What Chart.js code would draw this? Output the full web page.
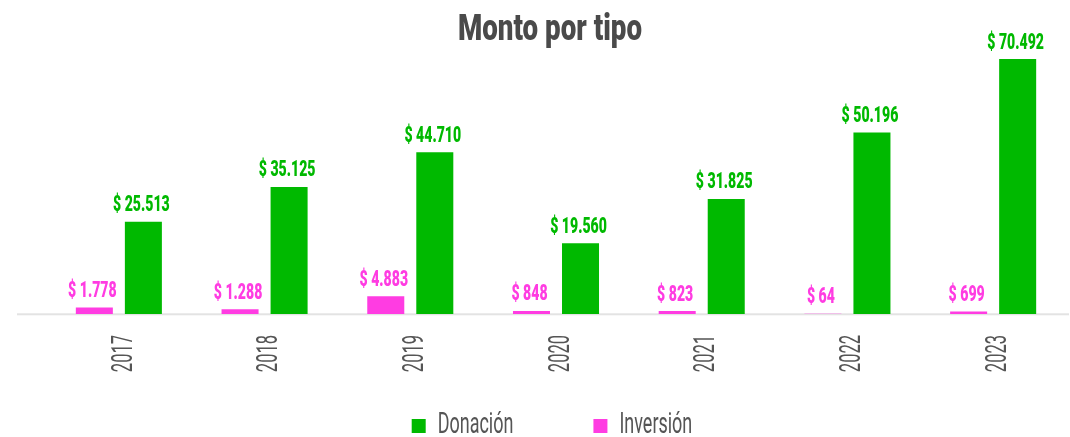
<!DOCTYPE html>
<html><head><meta charset="utf-8">
<script src="https://cdn.jsdelivr.net/npm/chart.js@4.4.0/dist/chart.umd.min.js"></script>
<style>html,body{margin:0;padding:0;background:#fff;} #wrap{width:1070px;height:437px;position:relative;}</style>
</head><body><div id="wrap"><canvas id="c"></canvas></div>
<script>
const categories = ['2017','2018','2019','2020','2021','2022','2023'];
const donacion = [25513, 35125, 44710, 19560, 31825, 50196, 70492];
const inversion = [1778, 1288, 4883, 848, 823, 64, 699];
const seriesNames = ['Inversión','Donación'];
const titleText = 'Monto por tipo';

const GREEN = '#00B900', PINK = '#FF3CE2', TITLE_GRAY = '#4a4a4a', TEXT_GRAY = '#555555';

function fmt(v){ return '$ ' + String(v).replace(/\B(?=(\d{3})+(?!\d))/g, '.'); }

function squeezed(ctx, text, x, y, sx, align, rot){
  ctx.save();
  ctx.translate(x, y);
  if (rot) ctx.rotate(rot);
  ctx.scale(sx, 1);
  ctx.textAlign = align;
  ctx.fillText(text, 0, 0);
  ctx.restore();
}

const deco = {
  id: 'deco',
  beforeDatasetsDraw(chart){
    const ctx = chart.ctx, a = chart.chartArea;
    ctx.save();
    ctx.fillStyle = '#e3e3e3';
    ctx.fillRect(a.left - 29, a.bottom - 0.7, chart.width - (a.left - 29) - 1, 2);
    ctx.restore();
  },
  afterDatasetsDraw(chart){
    const ctx = chart.ctx;
    ctx.save();
    ctx.font = '900 22px Roboto';
    ctx.textBaseline = 'alphabetic';
    chart.data.datasets.forEach((ds, di) => {
      const meta = chart.getDatasetMeta(di);
      meta.data.forEach((el, i) => {
        ctx.fillStyle = ds.backgroundColor;
        squeezed(ctx, fmt(ds.data[i]), el.x - 2, el.y - 10.5, 0.64, 'center');
      });
    });
    ctx.restore();
  },
  afterDraw(chart){
    const ctx = chart.ctx, a = chart.chartArea, xs = chart.scales.x;
    ctx.save();
    // title
    ctx.fillStyle = TITLE_GRAY;
    ctx.font = '900 36px Roboto';
    ctx.textBaseline = 'alphabetic';
    squeezed(ctx, titleText, 550, 40, 0.77, 'center');
    // x tick labels (rotated)
    ctx.fillStyle = TEXT_GRAY;
    ctx.font = '400 29px Roboto';
    categories.forEach((c, i) => {
      const x = xs.getPixelForValue(i) + 12.7;
      squeezed(ctx, c, x, a.bottom + 21, 0.57, 'right', -Math.PI/2);
    });
    // legend (Donación first)
    ctx.font = '400 29px Roboto';
    const sx = 0.62, box = 14, gapT = 12, gapI = 80;
    const items = chart.data.datasets.map(ds => ({label: ds.label, color: ds.backgroundColor})).reverse();
    const widths = items.map(it => ctx.measureText(it.label).width * sx);
    let total = 0;
    widths.forEach((w, i) => { total += box + gapT + w + (i < widths.length - 1 ? gapI : 0); });
    let x = 552 - total / 2;
    const baseY = 433;
    items.forEach((it, i) => {
      ctx.fillStyle = it.color;
      ctx.fillRect(x, baseY - box, box, box);
      x += box + gapT;
      ctx.fillStyle = TEXT_GRAY;
      squeezed(ctx, it.label, x, baseY, sx, 'left');
      x += widths[i] + gapI;
    });
    ctx.restore();
  }
};

function build(){
  new Chart(document.getElementById('c'), {
    type: 'bar',
    data: {
      labels: categories,
      datasets: [
        {label: seriesNames[0], data: inversion, backgroundColor: PINK, categoryPercentage: 0.673, barPercentage: 0.755},
        {label: seriesNames[1], data: donacion, backgroundColor: GREEN, categoryPercentage: 0.673, barPercentage: 0.755}
      ]
    },
    options: {
      responsive: true, maintainAspectRatio: false, animation: false,
      layout: {padding: {left: 46, right: 4, top: 59, bottom: 123}},
      plugins: {legend: {display: false}, title: {display: false}, tooltip: {enabled: false}},
      scales: {
        x: {display: false},
        y: {display: false, min: 0, max: Math.max(...donacion)}
      }
    },
    plugins: [deco]
  });
}
Promise.all([
  document.fonts.load('900 22px Roboto'),
  document.fonts.load('900 36px Roboto'),
  document.fonts.load('400 29px Roboto')
]).then(build, build);
</script>
</body></html>
